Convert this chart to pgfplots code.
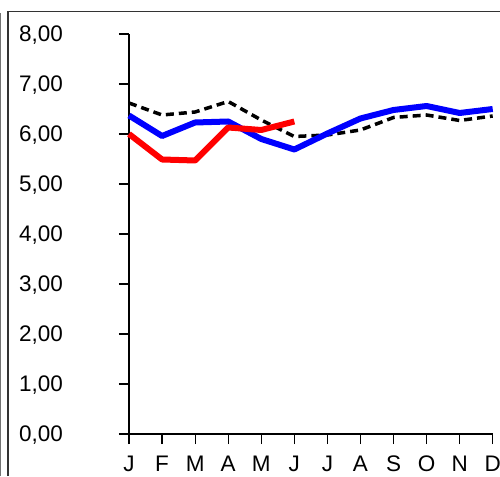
\documentclass[border=0pt]{standalone}
\usepackage{pgfplots}
\pgfplotsset{compat=1.18}
\usepackage{fontspec}
\setmainfont{Liberation Sans}
\begin{document}
\begin{tikzpicture}[x=1pt,y=1pt]
\useasboundingbox (0,0) rectangle (500,476);
\draw[black!80, line width=1.4pt] (8,0) -- (8,464.5) -- (500,464.5);
\draw[black!55, line width=1.2pt] (0.8,0) -- (0.8,463);
\begin{axis}[
  at={(129pt,42pt)}, anchor=south west,
  scale only axis, width=363.7pt, height=400pt,
  xmin=0, xmax=11, ymin=0, ymax=8,
  axis x line*=bottom, axis y line*=left,
  axis line style={-, line width=1.2pt},
  tick style={line width=1.2pt, black},
  tick align=outside, major tick length=10pt,
  xtick={0,...,11},
  xticklabels={J,F,M,A,M,J,J,A,S,O,N,D},
  ytick={0,...,8},
  yticklabels={{0,00},{1,00},{2,00},{3,00},{4,00},{5,00},{6,00},{7,00},{8,00}},
  ticklabel style={font=\fontsize{22.5}{27}\selectfont},
  yticklabel style={anchor=east, xshift=-52.5pt, yshift=-1.5pt},
  xticklabel style={yshift=-8pt},
  clip=false,
]
\addplot[black, line width=3.5pt, dash pattern=on 8pt off 5pt] coordinates {
(0,6.62) (1,6.38) (2,6.44) (3,6.65) (4,6.28) (5,5.95) (6,5.98) (7,6.08) (8,6.33) (9,6.38) (10,6.27) (11,6.36)};
\addplot[blue, line width=6pt, line join=round] coordinates {
(0,6.37) (1,5.96) (2,6.23) (3,6.25) (4,5.90) (5,5.69) (6,6.01) (7,6.31) (8,6.48) (9,6.56) (10,6.42) (11,6.50)};
\addplot[red, line width=6pt, line join=round] coordinates {
(0,6.00) (1,5.49) (2,5.47) (3,6.13) (4,6.08) (5,6.25)};
\end{axis}
\end{tikzpicture}
\end{document}
